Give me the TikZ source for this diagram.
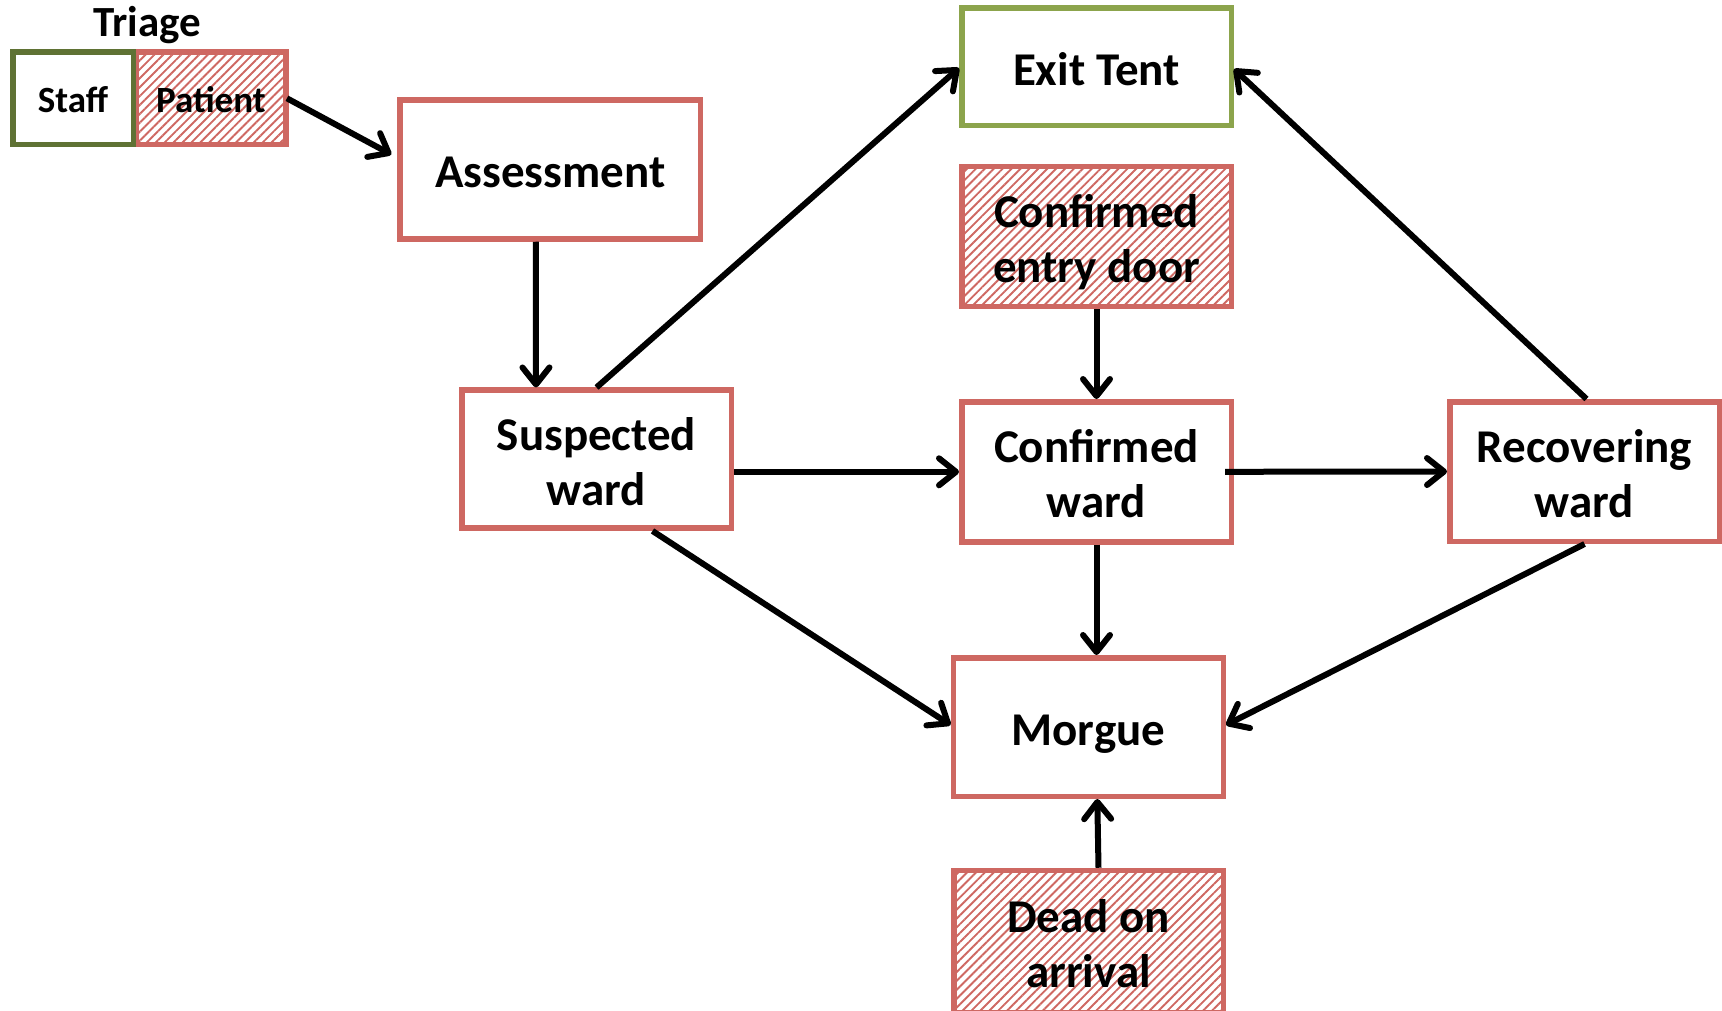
\documentclass[tikz,border=0pt]{standalone}
\usepackage{fontspec}
\setmainfont{Carlito}
\usetikzlibrary{arrows.meta,patterns.meta}
\definecolor{boxred}{RGB}{206,104,98}
\definecolor{exitgreen}{RGB}{140,164,76}
\definecolor{staffgreen}{RGB}{95,114,52}
\newcommand{\bigtxt}[1]{\raisebox{-7.5pt}[\height][\depth]{\begin{tabular}{@{}c@{}}#1\end{tabular}}}
\newcommand{\smalltxt}[1]{\raisebox{-5.8pt}[\height][\depth]{#1\strut}}
\begin{document}
\begin{tikzpicture}[x=1pt,y=-1pt,
  box/.style={draw=boxred,line width=5.5pt,minimum width=269.5pt,minimum height=139pt,
    inner sep=0pt,font=\bfseries\fontsize{47}{55}\selectfont},
  hatched/.style={pattern={Lines[angle=45,distance=6.3pt,line width=1.9pt]},pattern color=boxred},
  small/.style={line width=5.5pt,minimum height=92.5pt,inner sep=0pt,
    font=\bfseries\fontsize{37}{43}\selectfont},
  arr/.style={line width=6pt,-{Straight Barb[length=17pt,width=27pt,line join=round,line cap=round]}}
]
\useasboundingbox (0,0) rectangle (1722,1011);

% Triage
\node[font=\bfseries\fontsize{43}{50}\selectfont,inner sep=0pt,anchor=base] (triage) at (147.2,36.7) {Triage};
\node[small,hatched,draw=boxred,minimum width=150.2pt] (patient) at (210.9,98.3) {\smalltxt{Patient}};
\node[small,draw=staffgreen,minimum width=120.5pt,fill=white] (staff) at (73,98.3) {\smalltxt{Staff}};

% boxes
\node[box,minimum width=300.5pt] (assess) at (550.3,169.5) {\bigtxt{Assessment}};
\node[box,draw=exitgreen,minimum height=117.5pt] (exit) at (1096.5,67) {\bigtxt{Exit Tent}};
\node[box,hatched,minimum height=139.5pt] (entry) at (1096.5,236.5) {\bigtxt{Confirmed\\entry door}};
\node[box,minimum height=138pt] (susp) at (596.5,459.2) {\bigtxt{Suspected\\ward}};
\node[box,minimum height=140pt] (conf) at (1096.5,471.8) {\bigtxt{Confirmed\\ward}};
\node[box,minimum height=139.5pt] (recov) at (1584.5,471.5) {\bigtxt{Recovering\\ward}};
\node[box,minimum width=270pt,minimum height=138.5pt] (morgue) at (1088.3,727) {\bigtxt{Morgue}};
\node[box,minimum height=142pt,hatched] (dead) at (1088.5,941.5) {\bigtxt{Dead on\\arrival}};

% connectors
\draw[arr] (patient.east) -- ([xshift=-6pt,yshift=15pt]assess.west);
\draw[arr] ([xshift=-14.5pt]assess.south) -- ([xshift=-60.5pt]susp.north);
\draw[arr] (susp.north) -- ([yshift=-1pt]exit.west);
\draw[arr] (susp.east |- conf.west) -- (conf.west);
\draw[arr] ([xshift=56pt]susp.south) -- ([yshift=2pt]morgue.west);
\draw[arr] (entry.south) -- (conf.north);
\draw[arr] ([xshift=-9pt]conf.east) -- (recov.west);
\draw[arr] (conf.south) -- (conf.south |- morgue.north);
\draw[arr] ([xshift=2pt]recov.north) -- ([yshift=-2pt]exit.east);
\draw[arr] (recov.south) -- ([yshift=2pt]morgue.east);
\draw[arr] ([xshift=10pt]dead.north) -- ([xshift=9pt]morgue.south);
\end{tikzpicture}
\end{document}
